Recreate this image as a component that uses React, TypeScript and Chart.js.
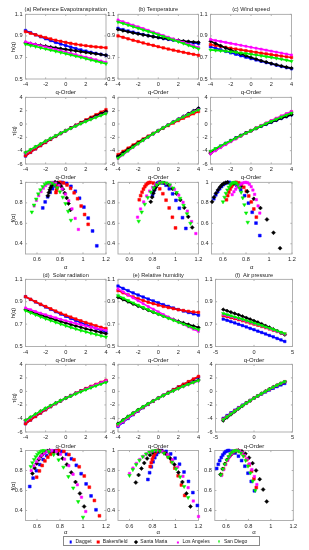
import React, { useEffect, useRef } from 'react';
import { Chart, registerables } from 'chart.js';

Chart.register(...registerables);

// ================= DATA =================
const qOrder = [-4, -3.5, -3, -2.5, -2, -1.5, -1, -0.5, 0, 0.5, 1, 1.5, 2, 2.5, 3, 3.5, 4];
const stations = ['Dagget', 'Bakersfield', 'Santa Maria', 'Los Angeles', 'San Diego'];
const panelTitles = [
  '(a) Reference Evapotranspiration',
  '(b) Temperature',
  '(c) Wind speed',
  '(d)  Solar radiation',
  '(e) Relative humidity',
  '(f)  Air pressure',
];

const qTicks = [-4, -2, 0, 2, 4];
const qTicksAir = [-5, 0, 5];
const hTicks = [0.5, 0.7, 0.9, 1.1];
const tauTicks = [-6, -4, -2, 0, 2, 4];
const alphaTicks = [0.6, 0.8, 1, 1.2];
const fTicks = [0.4, 0.6, 0.8, 1];

// (a) Reference evapotranspiration — station order: Dagget, Bakersfield, Santa Maria, Los Angeles, San Diego
const hRefET = [
  [0.950, 0.930, 0.910, 0.892, 0.874, 0.857, 0.840, 0.825, 0.810, 0.796, 0.783, 0.770, 0.759, 0.748, 0.738, 0.729, 0.720],
  [0.940, 0.925, 0.910, 0.897, 0.884, 0.872, 0.860, 0.850, 0.840, 0.831, 0.823, 0.815, 0.809, 0.803, 0.798, 0.794, 0.790],
  [0.836, 0.828, 0.820, 0.812, 0.805, 0.797, 0.790, 0.782, 0.775, 0.768, 0.761, 0.754, 0.747, 0.740, 0.734, 0.727, 0.721],
  [0.845, 0.833, 0.821, 0.809, 0.798, 0.786, 0.774, 0.762, 0.750, 0.738, 0.726, 0.714, 0.703, 0.691, 0.679, 0.667, 0.655],
  [0.822, 0.811, 0.801, 0.790, 0.779, 0.768, 0.757, 0.746, 0.735, 0.724, 0.712, 0.701, 0.689, 0.677, 0.666, 0.654, 0.642],
];
const tauRefET = [
  [-4.80, -4.255, -3.73, -3.23, -2.748, -2.286, -1.84, -1.413, -1, -0.602, -0.217, 0.155, 0.518, 0.87, 1.214, 1.552, 1.88],
  [-4.76, -4.238, -3.73, -3.243, -2.768, -2.308, -1.86, -1.425, -1, -0.585, -0.177, 0.223, 0.618, 1.008, 1.394, 1.779, 2.16],
  [-4.344, -3.898, -3.46, -3.03, -2.61, -2.196, -1.79, -1.391, -1, -0.616, -0.239, 0.131, 0.494, 0.85, 1.202, 1.545, 1.884],
  [-4.38, -3.916, -3.463, -3.023, -2.596, -2.179, -1.774, -1.381, -1, -0.631, -0.274, 0.071, 0.406, 0.728, 1.037, 1.335, 1.62],
  [-4.288, -3.839, -3.403, -2.975, -2.558, -2.152, -1.757, -1.373, -1, -0.638, -0.288, 0.051, 0.378, 0.694, 0.997, 1.288, 1.567],
];
const alphaRefET = [
  [1.12, 1.083, 1.045, 1.008, 0.97, 0.933, 0.895, 0.858, 0.82, 0.799, 0.778, 0.756, 0.735, 0.714, 0.693, 0.671, 0.65],
  [1.045, 1.014, 0.984, 0.953, 0.923, 0.892, 0.861, 0.831, 0.80, 0.796, 0.791, 0.787, 0.783, 0.778, 0.774, 0.769, 0.765],
  [0.89, 0.874, 0.858, 0.841, 0.825, 0.809, 0.793, 0.776, 0.76, 0.752, 0.744, 0.736, 0.728, 0.719, 0.711, 0.703, 0.695],
  [0.96, 0.932, 0.904, 0.876, 0.848, 0.819, 0.791, 0.763, 0.735, 0.715, 0.695, 0.675, 0.655, 0.635, 0.615, 0.595, 0.575],
  [0.895, 0.871, 0.848, 0.824, 0.80, 0.776, 0.753, 0.729, 0.705, 0.686, 0.668, 0.649, 0.63, 0.611, 0.593, 0.574, 0.555],
];
const fRefET = [
  [0.38, 0.525, 0.651, 0.758, 0.845, 0.913, 0.961, 0.99, 1, 0.996, 0.984, 0.965, 0.938, 0.902, 0.859, 0.809, 0.75],
  [0.59, 0.686, 0.769, 0.84, 0.898, 0.942, 0.974, 0.994, 1, 0.998, 0.994, 0.986, 0.975, 0.961, 0.944, 0.923, 0.90],
  [0.73, 0.793, 0.848, 0.895, 0.933, 0.962, 0.983, 0.996, 1, 0.998, 0.992, 0.982, 0.968, 0.949, 0.927, 0.90, 0.87],
  [0.54, 0.648, 0.741, 0.82, 0.885, 0.935, 0.971, 0.993, 1, 0.996, 0.986, 0.968, 0.943, 0.91, 0.871, 0.824, 0.77],
  [0.63, 0.717, 0.792, 0.855, 0.908, 0.948, 0.977, 0.994, 1, 0.995, 0.982, 0.959, 0.928, 0.887, 0.837, 0.778, 0.71],
];

// (b) Temperature
const hTemp = [
  [0.970, 0.958, 0.946, 0.935, 0.924, 0.913, 0.903, 0.894, 0.885, 0.876, 0.868, 0.861, 0.854, 0.847, 0.841, 0.835, 0.830],
  [0.900, 0.887, 0.873, 0.860, 0.848, 0.835, 0.823, 0.812, 0.800, 0.789, 0.778, 0.768, 0.758, 0.748, 0.738, 0.729, 0.720],
  [0.960, 0.949, 0.938, 0.928, 0.919, 0.910, 0.901, 0.893, 0.885, 0.878, 0.871, 0.865, 0.859, 0.853, 0.848, 0.844, 0.840],
  [1.048, 1.032, 1.016, 1.000, 0.984, 0.968, 0.952, 0.936, 0.920, 0.904, 0.888, 0.872, 0.856, 0.840, 0.824, 0.808, 0.792],
  [1.030, 1.016, 1.001, 0.986, 0.971, 0.956, 0.941, 0.926, 0.910, 0.894, 0.878, 0.863, 0.846, 0.830, 0.813, 0.797, 0.780],
];
const tauTemp = [
  [-4.88, -4.353, -3.838, -3.338, -2.848, -2.37, -1.903, -1.447, -1, -0.562, -0.132, 0.291, 0.708, 1.118, 1.523, 1.923, 2.32],
  [-4.6, -4.105, -3.619, -3.15, -2.696, -2.253, -1.823, -1.406, -1, -0.606, -0.222, 0.151, 0.515, 0.869, 1.214, 1.551, 1.88],
  [-4.84, -4.322, -3.814, -3.32, -2.838, -2.365, -1.901, -1.447, -1, -0.561, -0.129, 0.297, 0.718, 1.133, 1.544, 1.954, 2.36],
  [-5.19, -4.612, -4.048, -3.5, -2.968, -2.452, -1.952, -1.468, -1, -0.548, -0.112, 0.308, 0.712, 1.1, 1.472, 1.828, 2.168],
  [-5.12, -4.556, -4.003, -3.465, -2.942, -2.434, -1.941, -1.463, -1, -0.553, -0.122, 0.294, 0.693, 1.075, 1.44, 1.789, 2.121],
];
const alphaTemp = [
  [1.09, 1.061, 1.033, 1.004, 0.975, 0.946, 0.918, 0.889, 0.86, 0.853, 0.845, 0.838, 0.83, 0.823, 0.815, 0.808, 0.80],
  [1.0, 0.973, 0.945, 0.918, 0.89, 0.863, 0.835, 0.808, 0.78, 0.768, 0.756, 0.744, 0.733, 0.721, 0.709, 0.697, 0.685],
  [1.145, 1.111, 1.076, 1.042, 1.008, 0.973, 0.939, 0.904, 0.87, 0.859, 0.849, 0.838, 0.828, 0.817, 0.806, 0.796, 0.785],
  [1.177, 1.14, 1.103, 1.066, 1.029, 0.991, 0.954, 0.917, 0.88, 0.854, 0.828, 0.801, 0.775, 0.749, 0.723, 0.696, 0.67],
  [1.13, 1.10, 1.07, 1.04, 1.01, 0.98, 0.95, 0.92, 0.89, 0.864, 0.838, 0.811, 0.785, 0.759, 0.733, 0.706, 0.68],
];
const fTemp = [
  [0.55, 0.655, 0.747, 0.824, 0.888, 0.937, 0.972, 0.993, 1, 0.998, 0.992, 0.982, 0.968, 0.949, 0.927, 0.90, 0.87],
  [0.555, 0.659, 0.75, 0.826, 0.889, 0.937, 0.972, 0.993, 1, 0.997, 0.989, 0.976, 0.958, 0.934, 0.904, 0.87, 0.83],
  [0.56, 0.663, 0.753, 0.828, 0.89, 0.938, 0.973, 0.993, 1, 0.997, 0.988, 0.973, 0.953, 0.926, 0.893, 0.855, 0.81],
  [0.50, 0.617, 0.719, 0.805, 0.875, 0.93, 0.969, 0.992, 1, 0.995, 0.979, 0.952, 0.915, 0.867, 0.809, 0.74, 0.66],
  [0.60, 0.694, 0.775, 0.844, 0.90, 0.944, 0.975, 0.994, 1, 0.994, 0.976, 0.947, 0.905, 0.852, 0.786, 0.709, 0.62],
];

// (c) Wind speed
const hWind = [
  [0.800, 0.786, 0.771, 0.757, 0.743, 0.730, 0.716, 0.703, 0.690, 0.677, 0.665, 0.653, 0.641, 0.629, 0.617, 0.606, 0.595],
  [0.820, 0.811, 0.803, 0.794, 0.786, 0.778, 0.770, 0.763, 0.755, 0.748, 0.740, 0.733, 0.726, 0.719, 0.713, 0.706, 0.700],
  [0.851, 0.829, 0.808, 0.788, 0.769, 0.751, 0.733, 0.716, 0.700, 0.685, 0.670, 0.657, 0.644, 0.632, 0.621, 0.610, 0.601],
  [0.868, 0.858, 0.849, 0.840, 0.831, 0.822, 0.813, 0.804, 0.795, 0.786, 0.777, 0.768, 0.759, 0.750, 0.741, 0.732, 0.723],
  [0.770, 0.766, 0.762, 0.758, 0.753, 0.748, 0.742, 0.736, 0.730, 0.723, 0.716, 0.708, 0.701, 0.692, 0.684, 0.675, 0.665],
];
const tauWind = [
  [-4.2, -3.751, -3.313, -2.893, -2.486, -2.095, -1.716, -1.352, -1, -0.661, -0.335, -0.021, 0.281, 0.572, 0.852, 1.121, 1.38],
  [-4.28, -3.839, -3.409, -2.985, -2.572, -2.167, -1.77, -1.382, -1, -0.626, -0.26, 0.1, 0.452, 0.798, 1.139, 1.471, 1.8],
  [-4.404, -3.902, -3.424, -2.97, -2.538, -2.127, -1.733, -1.358, -1, -0.658, -0.33, -0.015, 0.288, 0.58, 0.862, 1.135, 1.404],
  [-4.472, -4.003, -3.547, -3.1, -2.662, -2.233, -1.813, -1.402, -1, -0.607, -0.223, 0.152, 0.518, 0.875, 1.223, 1.562, 1.892],
  [-4.08, -3.681, -3.286, -2.895, -2.506, -2.122, -1.742, -1.368, -1, -0.639, -0.284, 0.062, 0.402, 0.731, 1.051, 1.361, 1.66],
];
const alphaWind = [
  [0.92, 0.887, 0.854, 0.821, 0.788, 0.754, 0.721, 0.688, 0.655, 0.638, 0.621, 0.604, 0.588, 0.571, 0.554, 0.537, 0.52],
  [0.89, 0.868, 0.846, 0.824, 0.803, 0.781, 0.759, 0.737, 0.715, 0.704, 0.694, 0.683, 0.673, 0.662, 0.651, 0.641, 0.63],
  [1.096, 1.039, 0.982, 0.925, 0.868, 0.811, 0.754, 0.697, 0.64, 0.623, 0.606, 0.589, 0.573, 0.556, 0.539, 0.522, 0.505],
  [0.92, 0.905, 0.89, 0.875, 0.86, 0.845, 0.83, 0.815, 0.80, 0.785, 0.77, 0.755, 0.74, 0.725, 0.71, 0.695, 0.68],
  [0.815, 0.801, 0.786, 0.772, 0.758, 0.743, 0.729, 0.714, 0.70, 0.688, 0.675, 0.663, 0.65, 0.638, 0.625, 0.613, 0.60],
];
const fWind = [
  [0.48, 0.602, 0.708, 0.797, 0.87, 0.927, 0.968, 0.992, 1, 0.998, 0.99, 0.978, 0.96, 0.938, 0.91, 0.878, 0.84],
  [0.66, 0.74, 0.809, 0.867, 0.915, 0.952, 0.979, 0.995, 1, 0.997, 0.989, 0.976, 0.958, 0.934, 0.904, 0.87, 0.83],
  [0.357, 0.508, 0.638, 0.749, 0.839, 0.91, 0.96, 0.99, 1, 0.997, 0.988, 0.973, 0.953, 0.926, 0.893, 0.855, 0.81],
  [0.70, 0.77, 0.831, 0.883, 0.925, 0.958, 0.981, 0.995, 1, 0.998, 0.993, 0.983, 0.97, 0.953, 0.933, 0.908, 0.88],
  [0.61, 0.701, 0.781, 0.848, 0.903, 0.945, 0.976, 0.994, 1, 0.997, 0.988, 0.973, 0.953, 0.926, 0.893, 0.855, 0.81],
];

// (d) Solar radiation
const hSolar = [
  [0.945, 0.921, 0.898, 0.875, 0.853, 0.832, 0.811, 0.790, 0.770, 0.751, 0.732, 0.713, 0.696, 0.678, 0.662, 0.646, 0.630],
  [0.945, 0.922, 0.900, 0.878, 0.857, 0.837, 0.817, 0.798, 0.780, 0.763, 0.746, 0.730, 0.714, 0.700, 0.686, 0.672, 0.660],
  [0.830, 0.814, 0.798, 0.782, 0.767, 0.752, 0.738, 0.724, 0.710, 0.697, 0.684, 0.672, 0.659, 0.648, 0.636, 0.625, 0.615],
  [0.845, 0.829, 0.813, 0.798, 0.784, 0.770, 0.756, 0.743, 0.730, 0.718, 0.706, 0.695, 0.684, 0.673, 0.663, 0.654, 0.645],
  [0.820, 0.801, 0.783, 0.765, 0.748, 0.732, 0.716, 0.700, 0.685, 0.671, 0.657, 0.643, 0.631, 0.618, 0.607, 0.596, 0.585],
];
const tauSolar = [
  [-4.78, -4.224, -3.694, -3.188, -2.706, -2.248, -1.811, -1.395, -1, -0.625, -0.268, 0.07, 0.392, 0.696, 0.985, 1.26, 1.52],
  [-4.78, -4.227, -3.7, -3.195, -2.714, -2.256, -1.817, -1.399, -1, -0.619, -0.254, 0.095, 0.428, 0.75, 1.058, 1.352, 1.64],
  [-4.32, -3.849, -3.394, -2.955, -2.534, -2.128, -1.738, -1.362, -1, -0.652, -0.316, 0.007, 0.319, 0.619, 0.909, 1.189, 1.46],
  [-4.38, -3.902, -3.439, -2.995, -2.568, -2.155, -1.756, -1.372, -1, -0.641, -0.294, 0.042, 0.368, 0.683, 0.989, 1.289, 1.58],
  [-4.28, -3.804, -3.349, -2.913, -2.496, -2.098, -1.716, -1.35, -1, -0.665, -0.343, -0.035, 0.261, 0.546, 0.82, 1.085, 1.34],
];
const alphaSolar = [
  [1.113, 1.07, 1.027, 0.984, 0.942, 0.899, 0.856, 0.813, 0.77, 0.741, 0.712, 0.683, 0.654, 0.624, 0.595, 0.566, 0.537],
  [1.143, 1.099, 1.055, 1.011, 0.967, 0.922, 0.878, 0.834, 0.79, 0.766, 0.742, 0.718, 0.694, 0.669, 0.645, 0.621, 0.597],
  [1.01, 0.973, 0.935, 0.898, 0.86, 0.823, 0.785, 0.748, 0.71, 0.691, 0.673, 0.654, 0.635, 0.616, 0.598, 0.579, 0.56],
  [1.024, 0.987, 0.951, 0.914, 0.877, 0.84, 0.804, 0.767, 0.73, 0.708, 0.685, 0.663, 0.64, 0.618, 0.595, 0.573, 0.55],
  [1.0, 0.958, 0.915, 0.873, 0.83, 0.788, 0.745, 0.703, 0.66, 0.646, 0.632, 0.617, 0.603, 0.589, 0.575, 0.56, 0.546],
];
const fSolar = [
  [0.407, 0.546, 0.666, 0.768, 0.852, 0.917, 0.963, 0.991, 1, 0.994, 0.978, 0.949, 0.91, 0.859, 0.798, 0.724, 0.64],
  [0.347, 0.50, 0.633, 0.745, 0.837, 0.908, 0.959, 0.99, 1, 0.996, 0.983, 0.962, 0.933, 0.896, 0.85, 0.796, 0.733],
  [0.44, 0.571, 0.685, 0.781, 0.86, 0.921, 0.965, 0.991, 1, 0.996, 0.986, 0.968, 0.943, 0.91, 0.871, 0.824, 0.77],
  [0.39, 0.533, 0.657, 0.762, 0.848, 0.914, 0.962, 0.99, 1, 0.997, 0.988, 0.972, 0.95, 0.922, 0.888, 0.847, 0.80],
  [0.333, 0.489, 0.625, 0.739, 0.833, 0.906, 0.958, 0.99, 1, 0.998, 0.99, 0.978, 0.96, 0.938, 0.91, 0.878, 0.84],
];

// (e) Relative humidity
const hHumidity = [
  [1.040, 1.019, 0.999, 0.979, 0.960, 0.942, 0.924, 0.907, 0.890, 0.874, 0.859, 0.844, 0.830, 0.817, 0.804, 0.792, 0.780],
  [1.000, 0.980, 0.961, 0.943, 0.927, 0.911, 0.896, 0.883, 0.870, 0.858, 0.848, 0.838, 0.829, 0.822, 0.815, 0.809, 0.805],
  [0.940, 0.920, 0.900, 0.880, 0.861, 0.843, 0.825, 0.807, 0.790, 0.773, 0.757, 0.741, 0.726, 0.711, 0.697, 0.683, 0.670],
  [1.015, 0.988, 0.961, 0.935, 0.909, 0.883, 0.858, 0.834, 0.810, 0.786, 0.763, 0.741, 0.719, 0.697, 0.676, 0.655, 0.635],
  [0.955, 0.933, 0.911, 0.890, 0.869, 0.849, 0.829, 0.809, 0.790, 0.771, 0.753, 0.735, 0.717, 0.700, 0.683, 0.666, 0.650],
];
const tauHumidity = [
  [-5.16, -4.567, -3.997, -3.448, -2.92, -2.413, -1.924, -1.454, -1, -0.563, -0.141, 0.266, 0.66, 1.043, 1.412, 1.772, 2.12],
  [-5.0, -4.43, -3.883, -3.358, -2.854, -2.367, -1.896, -1.442, -1, -0.571, -0.152, 0.257, 0.658, 1.055, 1.445, 1.832, 2.22],
  [-4.76, -4.22, -3.7, -3.2, -2.722, -2.265, -1.825, -1.404, -1, -0.613, -0.243, 0.112, 0.453, 0.779, 1.091, 1.392, 1.68],
  [-5.06, -4.458, -3.883, -3.338, -2.818, -2.325, -1.858, -1.417, -1, -0.607, -0.237, 0.111, 0.438, 0.743, 1.028, 1.293, 1.54],
  [-4.82, -4.266, -3.733, -3.225, -2.738, -2.274, -1.829, -1.405, -1, -0.614, -0.247, 0.102, 0.434, 0.749, 1.048, 1.331, 1.6],
];
const alphaHumidity = [
  [1.19, 1.151, 1.113, 1.074, 1.035, 0.996, 0.958, 0.919, 0.88, 0.865, 0.85, 0.835, 0.82, 0.805, 0.79, 0.775, 0.76],
  [1.08, 1.051, 1.023, 0.994, 0.965, 0.936, 0.908, 0.879, 0.85, 0.841, 0.833, 0.824, 0.815, 0.806, 0.798, 0.789, 0.78],
  [1.13, 1.095, 1.06, 1.025, 0.99, 0.955, 0.92, 0.885, 0.85, 0.826, 0.801, 0.777, 0.753, 0.728, 0.704, 0.679, 0.655],
  [1.2, 1.155, 1.11, 1.065, 1.02, 0.975, 0.93, 0.885, 0.84, 0.81, 0.78, 0.75, 0.72, 0.69, 0.66, 0.63, 0.60],
  [1.11, 1.075, 1.04, 1.005, 0.97, 0.935, 0.90, 0.865, 0.83, 0.801, 0.773, 0.744, 0.715, 0.686, 0.658, 0.629, 0.60],
];
const fHumidity = [
  [0.45, 0.579, 0.691, 0.785, 0.863, 0.923, 0.966, 0.991, 1, 0.995, 0.982, 0.959, 0.928, 0.887, 0.837, 0.778, 0.71],
  [0.55, 0.655, 0.747, 0.824, 0.888, 0.937, 0.972, 0.993, 1, 0.998, 0.99, 0.978, 0.96, 0.938, 0.91, 0.878, 0.84],
  [0.44, 0.571, 0.685, 0.781, 0.86, 0.921, 0.965, 0.991, 1, 0.995, 0.98, 0.955, 0.92, 0.875, 0.82, 0.755, 0.68],
  [0.34, 0.495, 0.629, 0.742, 0.835, 0.907, 0.959, 0.99, 1, 0.996, 0.986, 0.968, 0.943, 0.91, 0.871, 0.824, 0.77],
  [0.53, 0.64, 0.736, 0.816, 0.883, 0.934, 0.971, 0.993, 1, 0.996, 0.984, 0.965, 0.938, 0.902, 0.859, 0.809, 0.75],
];

// (f) Air pressure
const hPressure = [
  [0.745, 0.734, 0.722, 0.711, 0.699, 0.687, 0.675, 0.662, 0.650, 0.637, 0.625, 0.612, 0.599, 0.586, 0.572, 0.559, 0.545],
  [0.775, 0.766, 0.757, 0.749, 0.739, 0.730, 0.720, 0.710, 0.700, 0.690, 0.679, 0.668, 0.657, 0.645, 0.634, 0.622, 0.610],
  [0.830, 0.819, 0.807, 0.795, 0.783, 0.770, 0.757, 0.744, 0.730, 0.716, 0.701, 0.686, 0.671, 0.655, 0.639, 0.622, 0.605],
  [0.785, 0.776, 0.766, 0.757, 0.747, 0.737, 0.726, 0.716, 0.705, 0.694, 0.683, 0.671, 0.659, 0.647, 0.635, 0.622, 0.610],
  [0.795, 0.785, 0.775, 0.764, 0.754, 0.743, 0.732, 0.721, 0.710, 0.699, 0.687, 0.675, 0.664, 0.652, 0.640, 0.627, 0.615],
];
const tauPressure = [
  [-3.98, -3.569, -3.166, -2.778, -2.398, -2.031, -1.675, -1.331, -1, -0.681, -0.375, -0.082, 0.198, 0.465, 0.717, 0.957, 1.18],
  [-4.1, -3.681, -3.271, -2.873, -2.478, -2.095, -1.72, -1.355, -1, -0.655, -0.321, 0.002, 0.314, 0.613, 0.901, 1.176, 1.438],
  [-4.32, -3.867, -3.421, -2.988, -2.566, -2.155, -1.757, -1.372, -1, -0.642, -0.299, 0.029, 0.341, 0.637, 0.916, 1.177, 1.42],
  [-4.14, -3.716, -3.298, -2.893, -2.494, -2.106, -1.726, -1.358, -1, -0.653, -0.317, 0.007, 0.318, 0.618, 0.905, 1.178, 1.438],
  [-4.18, -3.748, -3.325, -2.91, -2.508, -2.115, -1.732, -1.361, -1, -0.651, -0.313, 0.013, 0.328, 0.63, 0.92, 1.195, 1.46],
];
const alphaPressure = [
  [0.853, 0.825, 0.796, 0.768, 0.739, 0.711, 0.682, 0.654, 0.625, 0.612, 0.598, 0.585, 0.571, 0.558, 0.544, 0.531, 0.517],
  [0.87, 0.849, 0.828, 0.806, 0.785, 0.764, 0.743, 0.721, 0.70, 0.683, 0.665, 0.648, 0.63, 0.613, 0.595, 0.578, 0.56],
  [0.963, 0.931, 0.90, 0.868, 0.837, 0.805, 0.773, 0.742, 0.71, 0.69, 0.67, 0.65, 0.63, 0.61, 0.59, 0.57, 0.55],
  [0.875, 0.853, 0.831, 0.809, 0.788, 0.766, 0.744, 0.722, 0.70, 0.683, 0.665, 0.648, 0.63, 0.613, 0.595, 0.578, 0.56],
  [0.86, 0.839, 0.818, 0.796, 0.775, 0.754, 0.733, 0.711, 0.69, 0.673, 0.656, 0.639, 0.623, 0.606, 0.589, 0.572, 0.555],
];
const fPressure = [
  [0.597, 0.691, 0.773, 0.843, 0.899, 0.943, 0.975, 0.994, 1, 0.997, 0.989, 0.975, 0.955, 0.93, 0.899, 0.862, 0.82],
  [0.63, 0.717, 0.792, 0.855, 0.908, 0.948, 0.977, 0.994, 1, 0.996, 0.985, 0.966, 0.94, 0.906, 0.865, 0.816, 0.76],
  [0.49, 0.61, 0.713, 0.801, 0.873, 0.928, 0.968, 0.992, 1, 0.996, 0.985, 0.966, 0.94, 0.906, 0.865, 0.816, 0.76],
  [0.66, 0.74, 0.809, 0.867, 0.915, 0.952, 0.979, 0.995, 1, 0.996, 0.984, 0.965, 0.938, 0.902, 0.859, 0.809, 0.75],
  [0.60, 0.694, 0.775, 0.844, 0.90, 0.944, 0.975, 0.994, 1, 0.996, 0.985, 0.966, 0.939, 0.905, 0.863, 0.814, 0.757],
];

// ================= STYLE / LAYOUT =================
const FONT = '"Liberation Sans", Arial, Helvetica, sans-serif';
const stationColors = ['#0000ff', '#ff0000', '#000000', '#ff00ff', '#00ee00'];
const stationMarkers = ['rect', 'rect', 'rectRot', 'rect', 'triangle'];
const stationRotation = [0, 0, 0, 0, 180];
const stationRadius = [1.8, 1.8, 1.8, 1.5, 1.9];

// plot-area geometry (page px) per figure row (0..5) and column (0..2)
const rowTop = [14, 97, 182, 279, 364, 450.5];
const rowHeight = [65, 67, 72, 67.5, 68, 70];
const plotLeft = [
  [25.5, 118, 210.5],
  [25.5, 118, 210.5],
  [25.5, 118, 211.5],
  [25.5, 118, 215.5],
  [25.5, 118, 215.5],
  [25.5, 118, 214.8],
];
const plotWidth = [
  [80.5, 80.5, 81],
  [80.5, 80.5, 81],
  [80.5, 80.5, 80.5],
  [80.5, 80.5, 77],
  [80.5, 80.5, 77],
  [80.5, 80.5, 78.5],
];

type Spec = {
  id: string;
  left: number; top: number; width: number; height: number;
  xs: number[][]; ys: number[][];
  xMin: number; xMax: number; xTicks: number[];
  yMin: number; yMax: number; yTicks: number[];
  line: boolean;
};

type Panel = { h: number[][]; tau: number[][]; alpha: number[][]; f: number[][]; qMin: number; qMax: number; qT: number[] };

const panels: Panel[] = [
  { h: hRefET, tau: tauRefET, alpha: alphaRefET, f: fRefET, qMin: -4, qMax: 4, qT: qTicks },
  { h: hTemp, tau: tauTemp, alpha: alphaTemp, f: fTemp, qMin: -4, qMax: 4, qT: qTicks },
  { h: hWind, tau: tauWind, alpha: alphaWind, f: fWind, qMin: -4, qMax: 4, qT: qTicks },
  { h: hSolar, tau: tauSolar, alpha: alphaSolar, f: fSolar, qMin: -4, qMax: 4, qT: qTicks },
  { h: hHumidity, tau: tauHumidity, alpha: alphaHumidity, f: fHumidity, qMin: -4, qMax: 4, qT: qTicks },
  { h: hPressure, tau: tauPressure, alpha: alphaPressure, f: fPressure, qMin: -5, qMax: 5, qT: qTicksAir },
];

function geom(row: number, col: number) {
  return { left: plotLeft[row][col], top: rowTop[row], width: plotWidth[row][col], height: rowHeight[row] };
}

const specs: Spec[] = [];
panels.forEach((p, i) => {
  const col = i % 3;
  const base = Math.floor(i / 3) * 3;
  const qx = stations.map(() => qOrder);
  specs.push({ id: `h${i}`, ...geom(base, col), xs: qx, ys: p.h, xMin: p.qMin, xMax: p.qMax, xTicks: p.qT, yMin: 0.5, yMax: 1.1, yTicks: hTicks, line: true });
  specs.push({ id: `t${i}`, ...geom(base + 1, col), xs: qx, ys: p.tau, xMin: p.qMin, xMax: p.qMax, xTicks: p.qT, yMin: -6, yMax: 4, yTicks: tauTicks, line: true });
  specs.push({ id: `f${i}`, ...geom(base + 2, col), xs: p.alpha, ys: p.f, xMin: 0.5, xMax: 1.2, xTicks: alphaTicks, yMin: 0.3, yMax: 1, yTicks: fTicks, line: false });
});

const PAD_L = 22, PAD_T = 6, PAD_R = 8, PAD_B = 12;

const fmt = (v: any) => String(Math.round(Number(v) * 10) / 10);

const matlabBox = {
  id: 'matlabBox',
  beforeDatasetsDraw(chart: any) {
    const { ctx, chartArea: a, scales } = chart;
    ctx.save();
    ctx.strokeStyle = '#a8a8a8';
    ctx.lineWidth = 0.9;
    ctx.strokeRect(a.left, a.top, a.right - a.left, a.bottom - a.top);
    const tl = 1.6;
    ctx.beginPath();
    scales.x.ticks.forEach((t: any) => {
      const px = scales.x.getPixelForValue(t.value);
      ctx.moveTo(px, a.bottom); ctx.lineTo(px, a.bottom - tl);
      ctx.moveTo(px, a.top); ctx.lineTo(px, a.top + tl);
    });
    scales.y.ticks.forEach((t: any) => {
      const py = scales.y.getPixelForValue(t.value);
      ctx.moveTo(a.left, py); ctx.lineTo(a.left + tl, py);
      ctx.moveTo(a.right, py); ctx.lineTo(a.right - tl, py);
    });
    ctx.stroke();
    ctx.restore();
  },
};

function Subplot({ spec }: { spec: Spec }) {
  const ref = useRef<HTMLCanvasElement>(null);
  const cLeft = Math.floor(spec.left - PAD_L);
  const cTop = Math.floor(spec.top - PAD_T);
  const padL = spec.left - cLeft;
  const padT = spec.top - cTop;
  const cW = Math.ceil(padL + spec.width + PAD_R);
  const cH = Math.ceil(padT + spec.height + PAD_B);
  const padR = cW - padL - spec.width;
  const padB = cH - padT - spec.height;

  useEffect(() => {
    const canvas = ref.current;
    if (!canvas) return;
    const tickFont = { family: FONT, size: 5.6 };
    const chart = new Chart(canvas, {
      type: 'scatter',
      data: {
        datasets: stations.map((name, i) => ({
          label: name,
          data: spec.xs[i].map((x, j) => ({ x, y: spec.ys[i][j] })),
          showLine: spec.line,
          borderColor: stationColors[i],
          backgroundColor: stationColors[i],
          borderWidth: 1.6,
          pointRadius: spec.line ? stationRadius[i] : stationRadius[i] + 0.2,
          pointBorderWidth: 0.5,
          pointStyle: stationMarkers[i] as any,
          pointRotation: stationRotation[i],
          order: 4 - i,
          clip: false as any,
        })),
      },
      options: {
        animation: false,
        responsive: false,
        events: [],
        devicePixelRatio: 1,
        layout: { padding: { left: 0, top: padT, right: padR, bottom: 0 } },
        plugins: { legend: { display: false }, tooltip: { enabled: false }, title: { display: false } },
        scales: {
          x: {
            type: 'linear', min: spec.xMin, max: spec.xMax,
            grid: { display: false, drawTicks: false, tickLength: 0 }, border: { display: false },
            ticks: { font: tickFont, color: '#262626', padding: 2.4, maxRotation: 0, autoSkip: false, callback: fmt },
            afterBuildTicks: (ax: any) => { ax.ticks = spec.xTicks.map((v) => ({ value: v })); },
            afterFit: (ax: any) => { ax.height = padB; },
          },
          y: {
            type: 'linear', min: spec.yMin, max: spec.yMax,
            grid: { display: false, drawTicks: false, tickLength: 0 }, border: { display: false },
            ticks: { font: tickFont, color: '#262626', padding: 3, autoSkip: false, callback: fmt },
            afterBuildTicks: (ax: any) => { ax.ticks = spec.yTicks.map((v) => ({ value: v })); },
            afterFit: (ax: any) => { ax.width = padL; },
          },
        },
      } as any,
      plugins: [matlabBox],
    });
    return () => chart.destroy();
  }, [spec]);

  return (
    <canvas
      ref={ref}
      width={cW}
      height={cH}
      style={{ position: 'absolute', left: cLeft, top: cTop, width: cW, height: cH }}
    />
  );
}

function Label({ x, y, text, size = 5.8, rotate = false }: { x: number; y: number; text: string; size?: number; rotate?: boolean }) {
  return (
    <div
      style={{
        position: 'absolute', left: x, top: y,
        transform: `translate(-50%, -50%)${rotate ? ' rotate(-90deg)' : ''}`,
        fontFamily: FONT, fontSize: size, lineHeight: 1, whiteSpace: 'pre', color: '#1a1a1a',
      }}
    >
      {text}
    </div>
  );
}

function Marker({ i }: { i: number }) {
  const c = stationColors[i];
  if (stationMarkers[i] === 'triangle') {
    return <span style={{ display: 'inline-block', width: 0, height: 0, borderLeft: '1.8px solid transparent', borderRight: '1.8px solid transparent', borderTop: `3px solid ${c}` }} />;
  }
  const s = i === 3 ? 2.2 : 2.6;
  return <span style={{ display: 'inline-block', width: s, height: s, background: c, transform: stationMarkers[i] === 'rectRot' ? 'rotate(45deg)' : undefined }} />;
}

const legendMarkerX = [70.7, 98, 135.5, 177.7, 219.3];
const legendTextX = [75.5, 102.8, 140.3, 182.5, 224];

function Legend() {
  return (
    <>
      <div style={{ position: 'absolute', left: 62.7, top: 536, width: 197.5, height: 9.5, border: '0.8px solid #8a8a8a', boxSizing: 'border-box', background: '#fff' }} />
      {stations.map((s, i) => (
        <React.Fragment key={s}>
          <div style={{ position: 'absolute', left: legendMarkerX[i], top: 540.8, transform: 'translate(-50%, -50%)', lineHeight: 0 }}>
            <Marker i={i} />
          </div>
          <div style={{ position: 'absolute', left: legendTextX[i], top: 540.8, transform: 'translateY(-50%)', fontFamily: FONT, fontSize: 5.0, lineHeight: 1, whiteSpace: 'nowrap', color: '#1a1a1a' }}>
            {s}
          </div>
        </React.Fragment>
      ))}
    </>
  );
}

export default function App() {
  const texts: React.ReactNode[] = [];
  const titleY = [10, 276];
  const xTitleY = [92, 177, 267, 360, 446, 532];
  const yTitles = ['h(q)', 'τ(q)', 'f(α)'];
  const yTitleX = [12.7, 13.5, 12.7];
  panels.forEach((_, i) => {
    const col = i % 3;
    const grp = Math.floor(i / 3);
    const base = grp * 3;
    for (let k = 0; k < 3; k++) {
      const g = geom(base + k, col);
      const cx = g.left + g.width / 2;
      if (k === 0) texts.push(<Label key={`tt${i}`} x={cx} y={titleY[grp]} text={panelTitles[i]} size={5.6} />);
      texts.push(<Label key={`xt${i}${k}`} x={cx} y={xTitleY[base + k]} text={k === 2 ? 'α' : 'q-Order'} size={6} />);
      if (col === 0) texts.push(<Label key={`yt${i}${k}`} x={yTitleX[k]} y={g.top + g.height / 2} text={yTitles[k]} size={6} rotate />);
    }
  });
  return (
    <div style={{ position: 'absolute', left: 0, top: 0, width: 309, height: 550, background: '#fff', overflow: 'hidden' }}>
      {specs.map((s) => <Subplot key={s.id} spec={s} />)}
      {texts}
      <Legend />
    </div>
  );
}
